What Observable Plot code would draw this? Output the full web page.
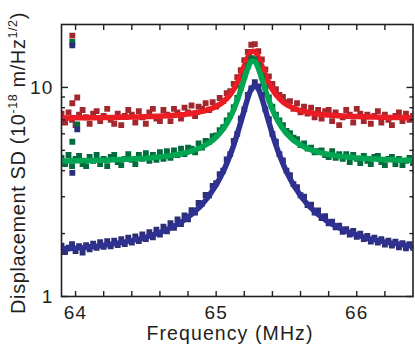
<!DOCTYPE html>
<html><head><meta charset="utf-8">
<script src="https://cdn.jsdelivr.net/npm/d3@7"></script>
<script src="https://cdn.jsdelivr.net/npm/@observablehq/plot@0.6"></script>
<style>html,body{margin:0;padding:0;background:#fff}svg{display:block}</style>
</head><body><div id="chart"></div>
<script>
// Frequency grid (MHz)
const freq = [
63.900,63.925,63.950,63.975,64.000,64.025,64.050,64.075,64.100,64.125,
64.150,64.175,64.200,64.225,64.250,64.275,64.300,64.325,64.350,64.375,
64.400,64.425,64.450,64.475,64.500,64.525,64.550,64.575,64.600,64.625,
64.650,64.675,64.700,64.725,64.750,64.775,64.800,64.825,64.850,64.875,
64.900,64.925,64.950,64.975,65.000,65.025,65.050,65.075,65.100,65.125,
65.150,65.175,65.200,65.225,65.250,65.275,65.300,65.325,65.350,65.375,
65.400,65.425,65.450,65.475,65.500,65.525,65.550,65.575,65.600,65.625,
65.650,65.675,65.700,65.725,65.750,65.775,65.800,65.825,65.850,65.875,
65.900,65.925,65.950,65.975,66.000,66.025,66.050,66.075,66.100,66.125,
66.150,66.175,66.200,66.225,66.250,66.275,66.300,66.325,66.350,66.375,
66.400];

const redData = [
7.5,6.8,7.6,7.0,6.6,7.4,7.8,7.2,6.7,7.5,
7.7,6.9,7.3,7.9,7.0,6.7,7.5,6.6,7.3,7.8,
7.4,6.8,7.7,7.2,6.7,7.6,7.9,7.1,6.9,7.8,
7.4,6.9,7.9,7.6,7.1,8.0,7.6,8.2,7.3,8.1,
7.9,8.4,7.8,8.5,8.1,8.9,8.6,9.4,9.6,10.4,
11.2,12.1,13.5,14.8,16.0,16.1,14.9,13.6,12.2,11.3,
10.4,9.8,9.2,9.0,8.5,8.6,7.9,8.4,7.6,8.1,
7.5,8.0,7.2,7.8,7.1,7.7,7.8,6.9,7.6,6.6,
7.2,7.8,7.4,6.8,7.9,7.5,6.9,7.4,6.7,7.3,
7.7,6.8,7.4,7.0,6.6,7.3,7.6,6.9,7.5,7.0,
7.3];
const redFit = [
7.15,7.15,7.15,7.16,7.16,7.16,7.16,7.16,7.16,7.17,
7.17,7.17,7.18,7.18,7.19,7.19,7.19,7.20,7.20,7.21,
7.22,7.22,7.23,7.24,7.25,7.26,7.27,7.28,7.29,7.30,
7.32,7.34,7.36,7.38,7.40,7.43,7.47,7.51,7.56,7.61,
7.68,7.75,7.85,7.97,8.12,8.30,8.54,8.85,9.25,9.79,
10.51,11.46,12.65,13.91,14.82,14.82,13.91,12.65,11.46,10.51,
9.79,9.25,8.85,8.54,8.30,8.12,7.97,7.85,7.75,7.68,
7.61,7.56,7.51,7.47,7.43,7.40,7.38,7.36,7.34,7.32,
7.30,7.29,7.28,7.27,7.26,7.25,7.24,7.23,7.22,7.22,
7.21,7.20,7.20,7.19,7.19,7.19,7.18,7.18,7.17,7.17,
7.17];

const greenData = [
4.60,4.30,4.75,4.20,4.55,4.70,4.30,4.20,4.65,4.45,
4.75,4.30,4.55,4.20,4.65,4.75,4.40,4.25,4.55,4.80,
4.50,4.30,4.75,4.55,4.85,4.45,4.75,4.50,4.90,4.55,
4.95,4.60,5.00,4.75,5.10,4.80,5.15,5.10,4.90,5.40,
5.15,5.55,5.50,5.85,5.90,6.25,6.45,6.95,7.35,8.05,
8.90,9.95,11.3,12.7,13.8,13.6,12.8,11.3,10.0,8.95,
8.10,7.40,6.95,6.60,6.20,6.05,5.75,5.65,5.30,5.40,
5.10,5.15,4.90,4.95,5.00,4.75,4.65,4.95,4.60,4.80,
4.55,4.80,4.40,4.75,4.55,4.35,4.70,4.45,4.30,4.65,
4.70,4.40,4.25,4.55,4.65,4.30,4.55,4.25,4.45,4.60,
4.35];
const greenFit = [
4.45,4.45,4.45,4.46,4.46,4.46,4.47,4.47,4.47,4.47,
4.48,4.48,4.49,4.49,4.50,4.51,4.51,4.52,4.53,4.54,
4.55,4.56,4.57,4.58,4.59,4.60,4.62,4.64,4.66,4.67,
4.69,4.72,4.75,4.78,4.82,4.86,4.91,4.97,5.03,5.11,
5.20,5.31,5.44,5.59,5.79,6.03,6.33,6.72,7.20,7.84,
8.67,9.72,11.0,12.34,13.29,13.29,12.34,11.0,9.72,8.67,
7.84,7.20,6.72,6.33,6.03,5.79,5.59,5.44,5.31,5.20,
5.11,5.03,4.97,4.91,4.86,4.82,4.78,4.75,4.72,4.69,
4.67,4.66,4.64,4.62,4.60,4.59,4.58,4.57,4.56,4.55,
4.54,4.53,4.52,4.51,4.51,4.50,4.49,4.49,4.48,4.48,
4.47];

const blueData = [
1.75,1.63,1.71,1.78,1.65,1.74,1.62,1.76,1.68,1.79,
1.71,1.82,1.73,1.84,1.74,1.85,1.76,1.88,1.78,1.91,
1.81,1.94,1.84,1.98,1.88,2.03,1.92,2.09,1.98,2.16,
2.05,2.24,2.13,2.34,2.22,2.44,2.34,2.59,2.52,2.80,
2.78,3.06,3.05,3.38,3.48,3.85,4.00,4.52,4.80,5.55,
6.00,7.10,7.85,9.20,9.90,10.6,10.1,9.20,7.85,7.05,
6.00,5.50,4.80,4.48,4.00,3.80,3.45,3.33,3.05,3.00,
2.74,2.75,2.52,2.58,2.37,2.42,2.24,2.28,2.14,2.18,
2.04,2.10,1.98,2.06,1.93,2.00,1.88,1.95,1.83,1.91,
1.81,1.88,1.77,1.85,1.75,1.83,1.72,1.80,1.70,1.78,
1.71];
const blueFit = [
1.69,1.69,1.69,1.70,1.70,1.71,1.71,1.72,1.73,1.73,
1.74,1.75,1.76,1.77,1.78,1.79,1.80,1.81,1.82,1.84,
1.85,1.87,1.88,1.90,1.92,1.95,1.97,2.00,2.02,2.06,
2.09,2.13,2.17,2.22,2.27,2.33,2.40,2.47,2.56,2.65,
2.76,2.89,3.04,3.22,3.42,3.67,3.96,4.32,4.76,5.30,
5.98,6.81,7.81,8.89,9.83,10.22,9.83,8.89,7.81,6.81,
5.98,5.30,4.76,4.32,3.96,3.67,3.42,3.22,3.04,2.89,
2.76,2.65,2.56,2.47,2.40,2.33,2.27,2.22,2.17,2.13,
2.09,2.06,2.02,2.00,1.97,1.95,1.92,1.90,1.88,1.87,
1.85,1.84,1.82,1.81,1.80,1.79,1.78,1.77,1.76,1.75,
1.74];

// stray points near the start of the sweep
const strayFreq = [63.977, 63.977, 64.012];
const redStray = [17.7, 8.4, 8.95];
const greenStray = [16.5, 5.5, 6.65];
const blueStray = [15.9, 3.9, 6.3];

// ticks
const xMajor = [64, 65, 66];
const xMinor = [64, 64.2, 64.4, 64.6, 64.8, 65, 65.2, 65.4, 65.6, 65.8, 66, 66.2];
const yMajor = [1, 10];
const yMinor = [2, 3, 4, 5, 6, 7, 8, 9];

const ink = "#231f20";
const sq = {symbol: "square", r: 3.3, clip: true};

const chart = Plot.plot({
  width: 415, height: 352,
  marginLeft: 61, marginRight: 2.5, marginTop: 24, marginBottom: 56,
  style: {fontFamily: "'Liberation Sans', Arial, Helvetica, sans-serif", color: ink, background: "#fff"},
  x: {domain: [63.9, 66.4]},
  y: {type: "log", domain: [1, 20]},
  marks: [
    Plot.dot(redData, {x: freq, y: redData, fill: "#a3282e", ...sq}),
    Plot.dot(redStray, {x: strayFreq, y: redStray, fill: "#a3282e", ...sq}),
    Plot.line(redFit, {x: freq, y: redFit, stroke: "#ec1c24", strokeWidth: 5.5, curve: "catmull-rom", clip: true}),
    Plot.dot(greenData, {x: freq, y: greenData, fill: "#036b3c", ...sq}),
    Plot.dot(greenStray, {x: strayFreq, y: greenStray, fill: "#036b3c", ...sq}),
    Plot.line(greenFit, {x: freq, y: greenFit, stroke: "#00a651", strokeWidth: 5.5, curve: "catmull-rom", clip: true}),
    Plot.dot(blueData, {x: freq, y: blueData, fill: "#2c2f77", ...sq}),
    Plot.dot(blueStray, {x: strayFreq, y: blueStray, fill: "#2c2f77", ...sq}),
    Plot.line(blueFit, {x: freq, y: blueFit, stroke: "#2e3192", strokeWidth: 5.5, curve: "catmull-rom", clip: true}),
    Plot.frame({stroke: ink, strokeWidth: 1.6}),
    Plot.axisX(xMinor, {anchor: "bottom", tickSize: -5, tickFormat: () => "", label: null, strokeWidth: 1.4}),
    Plot.axisX(xMinor, {anchor: "top", tickSize: -5, tickFormat: () => "", label: null, strokeWidth: 1.4}),
    Plot.axisX(xMajor, {anchor: "bottom", tickSize: 0, tickPadding: 9, tickFormat: d => String(d), fontSize: 19, label: null}),
    Plot.axisY(yMinor, {anchor: "left", tickSize: -4, tickFormat: () => "", label: null, strokeWidth: 1.4}),
    Plot.axisY(yMinor, {anchor: "right", tickSize: -4, tickFormat: () => "", label: null, strokeWidth: 1.4}),
    Plot.axisY(yMajor, {anchor: "left", tickSize: -7, tickPadding: 15, tickFormat: d => String(d), fontSize: 19, label: null, strokeWidth: 1.4}),
    Plot.axisY(yMajor, {anchor: "right", tickSize: -7, tickFormat: () => "", label: null, strokeWidth: 1.4})
  ]
});
document.getElementById("chart").appendChild(chart);

const svg = d3.select(chart);
svg.selectAll("g[aria-label='x-axis tick label'] text").attr("letter-spacing", 1.2);
svg.selectAll("g[aria-label='y-axis tick label'] text").attr("letter-spacing", 1.2);

svg.append("text")
  .attr("x", 230).attr("y", 340)
  .attr("text-anchor", "middle")
  .attr("font-size", 19.5)
  .attr("letter-spacing", 1.1)
  .attr("fill", ink)
  .text("Frequency (MHz)");

const yl = svg.append("text")
  .attr("transform", "translate(25,163) rotate(-90)")
  .attr("text-anchor", "middle")
  .attr("font-size", 20)
  .attr("letter-spacing", 0.6)
  .attr("fill", ink);
yl.append("tspan").text("Displacement SD (10");
yl.append("tspan").attr("font-size", 12.5).attr("dy", -8).text("-18");
yl.append("tspan").attr("dy", 8).text(" m/Hz");
yl.append("tspan").attr("font-size", 12.5).attr("dy", -8).text("1/2");
yl.append("tspan").attr("dy", 8).text(")");
</script>
</body></html>
